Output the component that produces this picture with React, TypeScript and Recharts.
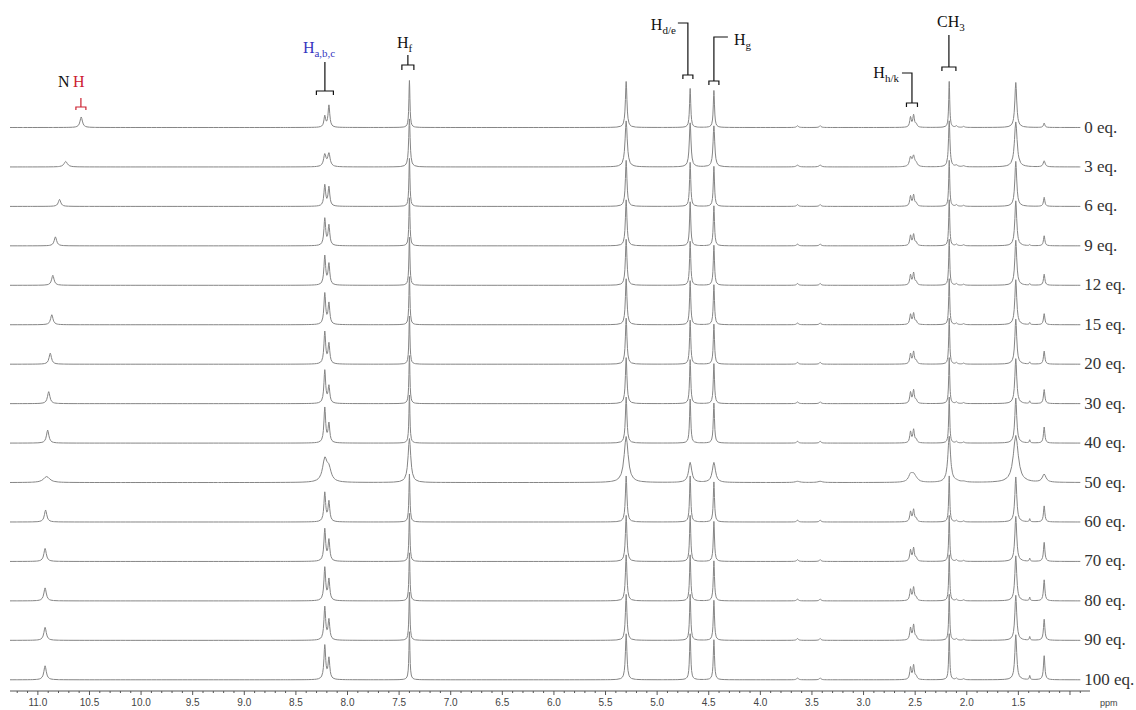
import React from 'react'
import { LineChart, Line, XAxis, YAxis, ReferenceDot } from 'recharts'

// titration steps, top spectrum first
const eqLabels = ['0 eq.', '3 eq.', '6 eq.', '9 eq.', '12 eq.', '15 eq.', '20 eq.', '30 eq.', '40 eq.', '50 eq.', '60 eq.', '70 eq.', '80 eq.', '90 eq.', '100 eq.']

// NH signal moves downfield with added guest
const nhShift = [10.58, 10.73, 10.79, 10.83, 10.855, 10.865, 10.88, 10.895, 10.905, 10.915, 10.925, 10.93, 10.93, 10.93, 10.93]
const nhHeight = [10.5, 5.5, 7, 9, 10, 10, 11, 12, 13, 6, 12, 13, 13, 13, 14]

// line broadening per spectrum (50 eq. is much broader)
const broadening = [1, 1.4, 1, 1, 1, 1, 1, 1, 1, 2.6, 1, 1, 1, 1, 1]

// fixed signals (ppm) and their half widths (ppm)
const peakShifts = [8.22, 8.18, 7.4, 5.3, 4.68, 4.45, 3.64, 3.42, 2.545, 2.515, 2.49, 2.17, 2.1, 2.03, 1.525, 1.39, 1.25]
const peakWidths = [0.01, 0.01, 0.006, 0.009, 0.007, 0.007, 0.01, 0.01, 0.009, 0.009, 0.01, 0.006, 0.01, 0.01, 0.011, 0.005, 0.008]

// peak heights per spectrum (units: 39.45 = spacing between spectra)
const habA = [11, 12, 21, 27, 29, 31, 32, 33, 35, 22, 29, 32, 33, 33, 34]
const habB = [22, 13, 19, 20, 21, 21, 20, 17, 19, 12, 20, 21, 21, 20, 21]
const hF = [47, 48, 48, 48, 48, 48, 48, 48, 48, 44, 48, 48, 48, 48, 48]
const h530 = [46, 46, 46, 46, 46, 46, 46, 46, 46, 46, 46, 46, 46, 46, 46]
const hDE = [39, 44, 44, 44, 44, 44, 44, 44, 44, 20, 46, 46, 46, 46, 46]
const hG = [37, 41, 40, 40, 40, 40, 40, 40, 40, 20, 40, 40, 40, 40, 40]
const h364 = [1.8, 1.8, 1.8, 1.8, 1.8, 1.8, 1.8, 1.8, 1.8, 1.2, 1.8, 1.8, 1.8, 1.8, 1.8]
const h342 = [1.8, 1.8, 1.8, 1.8, 1.8, 1.8, 1.8, 1.8, 1.8, 1.2, 1.8, 1.8, 1.8, 1.8, 1.8]
const hHKa = [10, 9, 10, 10, 10, 10, 10, 11, 11, 7, 10, 11, 11, 12, 12]
const hHKb = [12, 10, 11, 11, 12, 11, 12, 13, 13, 6, 12, 13, 13, 15, 14]
const hHKc = [3, 3, 3, 3, 3, 3, 3, 3, 3, 2, 3, 3, 3, 3, 3]
const hCH3 = [46, 46, 46, 46, 46, 46, 46, 46, 46, 46, 46, 46, 46, 46, 46]
const h210 = [1.5, 1.5, 1.5, 1.5, 1.5, 1.5, 1.5, 1.5, 1.5, 1, 1.5, 1.5, 1.5, 1.5, 1.5]
const h203 = [1, 1, 1, 1, 1, 1, 1, 1, 1, 0.8, 1, 1, 1, 1, 1]
const h152 = [45, 45, 45, 45, 45, 45, 45, 45, 45, 47, 45, 45, 45, 45, 45]
const h139 = [0, 0, 0, 1, 1.5, 2, 2, 2.5, 3, 0, 3, 3, 3.5, 3.5, 4]
const h125 = [4.4, 6, 9, 10, 11, 11, 13, 14, 16, 8, 16, 19, 21, 21, 24]
const peakHeights = [habA, habB, hF, h530, hDE, hG, h364, h342, hHKa, hHKb, hHKc, hCH3, h210, h203, h152, h139, h125]

const majorTicks = [11.0, 10.5, 10.0, 9.5, 9.0, 8.5, 8.0, 7.5, 7.0, 6.5, 6.0, 5.5, 5.0, 4.5, 4.0, 3.5, 3.0, 2.5, 2.0, 1.5]

const STEP = 39.45
const X_LEFT = 11.27
const X_RIGHT = 0.806
const LINE_START = 11.27
const LINE_END = 0.9
const SERIF = "'Liberation Serif', 'DejaVu Serif', serif"
const SANS = "'Liberation Sans', Arial, sans-serif"

// sample offsets around a peak, in half-widths
const PROFILE = [-40, -20, -10, -6, -4, -3, -2, -1.4, -0.8, -0.4, 0, 0.4, 0.8, 1.4, 2, 3, 4, 6, 10, 20, 40]

function buildSpectrum(i: number) {
  const peaks = peakShifts.map((s, k) => ({ s, w: peakWidths[k] * broadening[i], h: peakHeights[k][i] }))
  peaks.push({ s: nhShift[i], w: 0.014 * broadening[i], h: nhHeight[i] })
  const xs = new Set<number>([LINE_START, LINE_END])
  for (let p = 11.25; p > LINE_END; p -= 0.05) xs.add(+p.toFixed(3))
  peaks.forEach((pk) => {
    if (pk.h <= 0) return
    PROFILE.forEach((o) => {
      const x = pk.s + o * pk.w
      if (x <= LINE_START && x >= LINE_END) xs.add(+x.toFixed(5))
    })
  })
  const base = (eqLabels.length - 1 - i) * STEP
  return [...xs]
    .sort((a, b) => b - a)
    .map((x) => ({
      x,
      y: base + peaks.reduce((acc, pk) => acc + (pk.h * pk.w * pk.w) / (pk.w * pk.w + (x - pk.s) * (x - pk.s)), 0),
    }))
}

const spectra = eqLabels.map((_, i) => buildSpectrum(i))

const minorTicks: number[] = []
for (let t = 112; t >= 9; t--) minorTicks.push(t / 10)

const AxisTick = (props: any) => {
  const { x, y, payload } = props
  const v = payload.value as number
  const major = Math.abs(v * 2 - Math.round(v * 2)) < 1e-6
  const labelled = majorTicks.some((m) => Math.abs(m - v) < 1e-6)
  return (
    <g>
      <line x1={x} x2={x} y1={y} y2={y + (major ? 4 : 2)} stroke="#555" strokeWidth={1} />
      {labelled && (
        <text x={x} y={y + 15} textAnchor="middle" fontSize={10} fill="#444" fontFamily={SANS}>
          {v.toFixed(1)}
        </text>
      )}
    </g>
  )
}

const PpmLabel = (props: any) => {
  const vb = props.viewBox || {}
  return (
    <text x={vb.x + vb.width + 10} y={vb.y + 15} fontSize={9} fill="#444" fontFamily={SANS}>
      ppm
    </text>
  )
}

// bracket + label drawn around an anchor point (centre of the bracket bar)
type Note = {
  ppm: number
  level: number
  color: string
  path: string
  main: string
  sub?: string
  tx: number
  ty: number
  anchor?: 'start' | 'middle' | 'end'
  extra?: { text: string; dx: number; color: string }
}

const notes: Note[] = [
  { ppm: 10.583, level: 572.8, color: '#cc2030', path: 'M0,-9V0M-5,3V0H5V3', main: 'H', tx: -8, ty: -20, extra: { text: 'N', dx: -23, color: '#111' } },
  { ppm: 8.219, level: 588.8, color: '#111', path: 'M0,-29V0M-8.5,4V0H8.5V4', main: 'H', sub: 'a,b,c', tx: -22, ty: -38 },
  { ppm: 7.415, level: 614.8, color: '#111', path: 'M0,-10V0M-6,5V0H6V5', main: 'H', sub: 'f', tx: -11, ty: -17 },
  { ppm: 4.702, level: 604.8, color: '#111', path: 'M-10,-52H0V0M-5,4V0H5V4', main: 'H', sub: 'd/e', tx: -12, ty: -45, anchor: 'end' },
  { ppm: 4.45, level: 598.8, color: '#111', path: 'M14,-44H0V0M-5,4V0H5V4', main: 'H', sub: 'g', tx: 20, ty: -36 },
  { ppm: 2.531, level: 576.8, color: '#111', path: 'M-10,-30H0V0M-5.5,4V0H5.5V4', main: 'H', sub: 'h/k', tx: -13, ty: -25, anchor: 'end' },
  { ppm: 2.173, level: 612.8, color: '#111', path: 'M0,-32V0M-7,4V0H7V4', main: 'CH', sub: '3', tx: 2, ty: -40, anchor: 'middle' },
]
const noteTextColor = ['#cc2030', '#3535c0', '#111', '#111', '#111', '#111', '#111']

export default function App() {
  return (
    <div style={{ position: 'absolute', left: 0, top: 0, background: '#fff' }}>
      <LineChart width={1136} height={710} margin={{ top: 1, right: 46, bottom: 0, left: 10 }}>
        <XAxis
          type="number"
          dataKey="x"
          domain={[X_RIGHT, X_LEFT]}
          reversed
          allowDataOverflow
          ticks={minorTicks}
          interval={0}
          tick={<AxisTick />}
          tickSize={0}
          tickMargin={0}
          tickLine={false}
          axisLine={{ stroke: '#555', strokeWidth: 1 }}
          height={19}
          label={{ content: PpmLabel }}
        />
        <YAxis type="number" hide domain={[-11.2, 678.8]} allowDataOverflow />
        {spectra.map((data, i) => (
          <Line
            key={eqLabels[i]}
            data={data}
            dataKey="y"
            type="linear"
            stroke="#858585"
            strokeWidth={1}
            dot={false}
            activeDot={false}
            isAnimationActive={false}
          />
        ))}
        {eqLabels.map((label, i) => (
          <ReferenceDot
            key={'lbl' + label}
            x={LINE_END}
            y={(eqLabels.length - 1 - i) * STEP}
            r={0}
            shape={(p: any) => (
              <text x={p.cx + 4} y={p.cy + 5} fontSize={17} fill="#333" fontFamily={SERIF}>
                {label}
              </text>
            )}
          />
        ))}
        {notes.map((n, k) => (
          <ReferenceDot
            key={'note' + k}
            x={n.ppm}
            y={n.level}
            r={0}
            shape={(p: any) => (
              <g>
                <path d={n.path} transform={`translate(${p.cx},${p.cy})`} fill="none" stroke={n.color} strokeWidth={1.2} />
                {n.extra && (
                  <text x={p.cx + n.extra.dx} y={p.cy + n.ty} fontSize={16} fill={n.extra.color} fontFamily={SERIF}>
                    {n.extra.text}
                  </text>
                )}
                <text x={p.cx + n.tx} y={p.cy + n.ty} fontSize={16} fill={noteTextColor[k]} fontFamily={SERIF} textAnchor={n.anchor || 'start'}>
                  {n.main}
                  {n.sub && (
                    <tspan fontSize={11} dy={4}>
                      {n.sub}
                    </tspan>
                  )}
                </text>
              </g>
            )}
          />
        ))}
      </LineChart>
    </div>
  )
}
